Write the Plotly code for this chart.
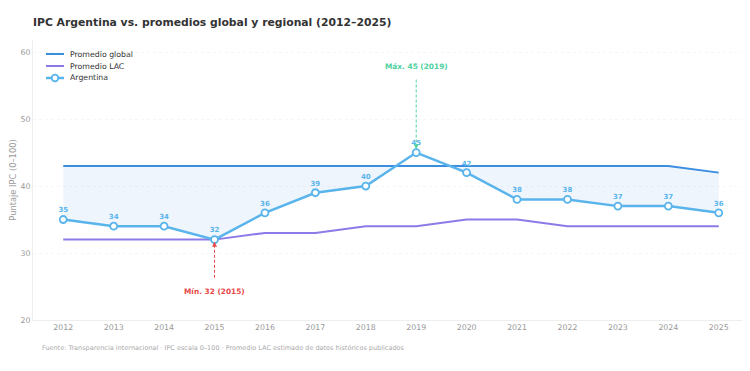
import plotly.graph_objects as go

years = list(range(2012, 2026))
global_avg = [43, 43, 43, 43, 43, 43, 43, 43, 43, 43, 43, 43, 43, 42]
lac_avg = [32, 32, 32, 32, 33, 33, 34, 34, 35, 35, 34, 34, 34, 34]
argentina = [35, 34, 34, 32, 36, 39, 40, 45, 42, 38, 38, 37, 37, 36]
series_names = ["Promedio global", "Promedio LAC", "Argentina"]

C_GLOBAL = "#3b8de0"
C_LAC = "#8b7ae8"
C_ARG = "#5ab4ec"
C_MAX = "#4fd1a0"
C_MIN = "#e84a4a"
FONT = "DejaVu Sans"

W, H = 750, 371
ML, MR, MT, MB = 25, 8, 32, 59
PW, PH = W - ML - MR, H - MT - MB


def px_x(X):
    return (X - ML) / PW


def px_y(Y):
    return (H - MB - Y) / PH


# fill between global and Argentina only where Argentina is below global
fx, flo, fhi = [], [], []
for i in range(len(years)):
    fx.append(years[i])
    flo.append(min(argentina[i], global_avg[i]))
    fhi.append(global_avg[i])
    if i < len(years) - 1:
        d0 = argentina[i] - global_avg[i]
        d1 = argentina[i + 1] - global_avg[i + 1]
        if d0 * d1 < 0:
            t = d0 / (d0 - d1)
            xc = years[i] + t
            yc = global_avg[i] + t * (global_avg[i + 1] - global_avg[i])
            fx.append(xc)
            flo.append(yc)
            fhi.append(yc)

fig = go.Figure()
fig.add_trace(go.Scatter(x=fx, y=fhi, mode="lines", line=dict(width=0),
                         showlegend=False, hoverinfo="skip"))
fig.add_trace(go.Scatter(x=fx, y=flo, mode="lines", line=dict(width=0),
                         fill="tonexty", fillcolor="rgba(59,141,224,0.085)",
                         showlegend=False, hoverinfo="skip"))
fig.add_trace(go.Scatter(x=years, y=global_avg, mode="lines", name=series_names[0],
                         line=dict(color=C_GLOBAL, width=2), showlegend=False))
fig.add_trace(go.Scatter(x=years, y=lac_avg, mode="lines", name=series_names[1],
                         line=dict(color=C_LAC, width=2), showlegend=False))
fig.add_trace(go.Scatter(x=years, y=argentina, mode="lines+markers+text", name=series_names[2],
                         line=dict(color=C_ARG, width=2.5),
                         marker=dict(size=7, color="white", line=dict(color=C_ARG, width=1.8)),
                         text=[str(v) for v in argentina], textposition="top center",
                         textfont=dict(size=7, color=C_ARG, family=FONT, weight="bold"),
                         showlegend=False))

# manual compact legend (top-left inside plot)
leg_colors = [C_GLOBAL, C_LAC, C_ARG]
leg_widths = [2, 2, 2.5]
leg_y = [46, 58, 70]
for name, col, lw, yy in zip(series_names, leg_colors, leg_widths, leg_y):
    fig.add_shape(type="line", xref="paper", yref="paper", x0=px_x(38), x1=px_x(56),
                  y0=px_y(yy), y1=px_y(yy), line=dict(color=col, width=lw))
    fig.add_annotation(xref="paper", yref="paper", x=px_x(60), y=px_y(yy), xanchor="left",
                       yanchor="middle", text=name, showarrow=False,
                       font=dict(size=7.8, color="#333333", family=FONT))
fig.add_shape(type="circle", xref="paper", yref="paper", xsizemode="pixel", ysizemode="pixel",
              xanchor=px_x(47), yanchor=px_y(leg_y[2]), x0=-3.3, x1=3.3, y0=-3.3, y1=3.3,
              fillcolor="white", line=dict(color=C_ARG, width=1.8))

imax = argentina.index(max(argentina))
imin = argentina.index(min(argentina))

# max annotation: dashed line + arrowhead + label
fig.add_shape(type="line", x0=years[imax], x1=years[imax], y0=55.9, y1=45.6,
              line=dict(color=C_MAX, width=1, dash="3px,2px"))
fig.add_annotation(x=years[imax], y=argentina[imax] + 0.5, ax=0, ay=-6, text="",
                   showarrow=True, arrowhead=2, arrowsize=1, arrowwidth=1, arrowcolor=C_MAX)
fig.add_annotation(x=years[imax], y=57.8, text=f"<b>Máx. {argentina[imax]} ({years[imax]})</b>",
                   showarrow=False, font=dict(size=7.4, color=C_MAX, family=FONT))

fig.add_shape(type="line", x0=years[imin], x1=years[imin], y0=26.3, y1=31.6,
              line=dict(color=C_MIN, width=1, dash="3px,2px"))
fig.add_annotation(x=years[imin], y=argentina[imin] - 0.3, ax=0, ay=6, text="",
                   showarrow=True, arrowhead=2, arrowsize=1, arrowwidth=1, arrowcolor=C_MIN)
fig.add_annotation(x=years[imin], y=24.2, text=f"<b>Mín. {argentina[imin]} ({years[imin]})</b>",
                   showarrow=False, font=dict(size=7.4, color=C_MIN, family=FONT))

fig.add_annotation(xref="paper", yref="paper", x=px_x(32), y=px_y(340), xanchor="left", yanchor="middle",
                   text="Fuente: Transparencia Internacional · IPC escala 0–100 · Promedio LAC estimado de datos históricos publicados",
                   showarrow=False, font=dict(size=6.5, color="#aaaaaa", family=FONT))

fig.update_layout(
    width=W, height=H,
    margin=dict(l=ML, r=MR, t=MT, b=MB),
    paper_bgcolor="white", plot_bgcolor="white",
    font=dict(family=FONT, color="#999999", size=7.8),
    showlegend=False,
    title=dict(text="<b>IPC Argentina vs. promedios global y regional (2012–2025)</b>",
               x=25 / W, xanchor="left", y=1 - 14 / H, yanchor="middle",
               font=dict(size=10.8, color="#333333", family=FONT)),
    xaxis=dict(range=[2011.4, 2025.62], tickmode="array", tickvals=years,
               ticktext=[str(y) for y in years], showgrid=False, zeroline=False,
               showline=True, linecolor="#eeeeee", linewidth=1, ticks="", automargin=False,
               tickfont=dict(size=7.8, color="#999999")),
    yaxis=dict(range=[20, 61.8], tickvals=[20, 30, 40, 50, 60], showgrid=True,
               gridcolor="#f6f6f6", griddash="dot", gridwidth=1, zeroline=False,
               showline=True, linecolor="#eeeeee", linewidth=1, ticks="", automargin=False,
               tickfont=dict(size=7.8, color="#999999"),
               title=dict(text="Puntaje IPC (0–100)", font=dict(size=8.3, color="#999999"), standoff=8)),
)

fig.write_html("out.html")
